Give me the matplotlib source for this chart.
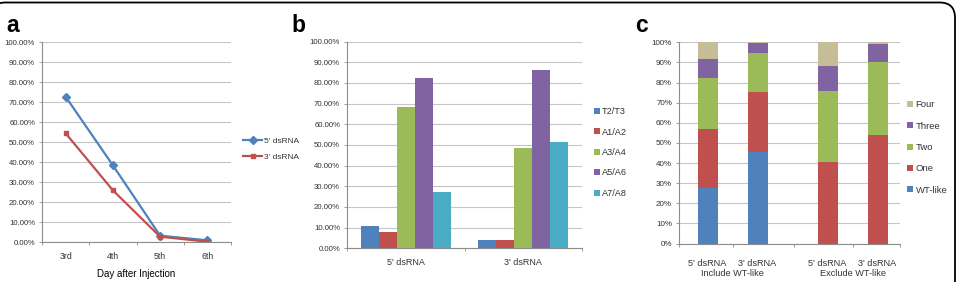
import numpy as np
import matplotlib
matplotlib.use("Agg")
import matplotlib.pyplot as plt
from matplotlib.patches import FancyBboxPatch
from matplotlib.ticker import FixedLocator, FuncFormatter

# --- data ---
days = ["3rd", "4th", "5th", "6th"]
line_5p = [72.8, 38.5, 3.3, 1.0]
line_3p = [54.5, 26.0, 2.8, 0.3]

groups_b = ["5' dsRNA", "3' dsRNA"]
series_b = ["T2/T3", "A1/A2", "A3/A4", "A5/A6", "A7/A8"]
t2t3 = [10.8, 4.0]
a1a2 = [8.0, 4.0]
a3a4 = [68.5, 48.3]
a5a6 = [82.2, 86.1]
a7a8 = [27.4, 51.4]

cats_c = ["5' dsRNA", "3' dsRNA", "5' dsRNA", "3' dsRNA"]
groups_c = ["Include WT-like", "Exclude WT-like"]
wt_like = [27.5, 45.5, 0.0, 0.0]
one = [29.5, 29.6, 40.5, 53.8]
two = [25.5, 19.7, 35.1, 36.2]
three = [9.0, 4.7, 12.4, 9.2]
four = [8.5, 0.5, 12.0, 0.8]

BLUE, RED, GREEN, PURPLE, CYAN, TAN = "#4F81BD", "#C0504D", "#9BBB59", "#8064A2", "#4BACC6", "#C4BD97"
GRID = "#C6C6C6"
AXC = "#8C8C8C"

plt.rcParams["font.family"] = ["Liberation Sans", "DejaVu Sans"]
plt.rcParams["text.color"] = "#333333"

W, H = 957, 282
fig = plt.figure(figsize=(W / 100, H / 100), dpi=100)


def rect(l, r, t, b):
    return [l / W, 1 - b / H, (r - l) / W, (b - t) / H]


def style(ax, fs, xfs, fmt):
    ax.set_ylim(0, 100)
    ax.yaxis.set_major_locator(FixedLocator(np.arange(0, 101, 10)))
    ax.yaxis.set_major_formatter(FuncFormatter(fmt))
    ax.grid(axis="y", color=GRID, linewidth=0.8)
    ax.set_axisbelow(True)
    for s in ["top", "right"]:
        ax.spines[s].set_visible(False)
    for s in ["left", "bottom"]:
        ax.spines[s].set_color(AXC)
        ax.spines[s].set_linewidth(0.8)
    ax.tick_params(axis="y", length=2.5, width=0.6, color=AXC, labelsize=fs, pad=2.5, labelcolor="#333333")
    ax.tick_params(axis="x", which="major", length=0, labelsize=xfs, pad=7, labelcolor="#333333")
    ax.tick_params(axis="x", which="minor", length=2.5, width=0.6, color=AXC)


# --- panel a ---
axa = fig.add_axes(rect(42, 231, 42.3, 242.3))
x = np.arange(len(days))
axa.plot(x, line_5p, color=BLUE, lw=1.6, marker="D", ms=4, label="5' dsRNA")
axa.plot(x, line_3p, color=RED, lw=1.6, marker="s", ms=3.5, label="3' dsRNA")
axa.set_xlim(-0.5, len(days) - 0.5)
style(axa, 5.6, 6.3, lambda v, p: f"{v:.2f}%")
axa.set_xticks(x)
axa.set_xticklabels(days)
axa.set_xticks(np.arange(-0.5, len(days), 1), minor=True)
axa.set_xlabel("Day after Injection", fontsize=7.0, labelpad=6)
axa.legend(loc="center left", bbox_to_anchor=(243 / W, 1 - 149 / H), bbox_transform=fig.transFigure,
           frameon=False, fontsize=6.0, handlelength=2.3, handletextpad=0.2, labelspacing=0.95,
           borderpad=0, borderaxespad=0)

# --- panel b ---
axb = fig.add_axes(rect(347, 582, 41.5, 248.2))
xb = np.arange(len(groups_b))
bw = 0.153
for i, (vals, col, nm) in enumerate(zip([t2t3, a1a2, a3a4, a5a6, a7a8],
                                        [BLUE, RED, GREEN, PURPLE, CYAN], series_b)):
    axb.bar(xb + (i - 2) * bw, vals, bw, color=col, label=nm)
axb.set_xlim(-0.5, len(groups_b) - 0.5)
style(axb, 5.6, 6.5, lambda v, p: f"{v:.2f}%")
axb.set_xticks(xb)
axb.set_xticklabels(groups_b)
axb.set_xticks(np.arange(-0.5, len(groups_b), 1), minor=True)
axb.legend(loc="center left", bbox_to_anchor=(594 / W, 1 - 152.5 / H), bbox_transform=fig.transFigure,
           frameon=False, fontsize=6.6, handlelength=0.6, handleheight=0.6, handletextpad=0.3,
           labelspacing=1.25, borderpad=0, borderaxespad=0)

# --- panel c ---
axc = fig.add_axes(rect(679, 900, 42.3, 243.5))
xc = np.array([0, 1, 2.4, 3.4])
bc = 0.4
bottom = np.zeros(len(cats_c))
for vals, col, nm in zip([wt_like, one, two, three, four], [BLUE, RED, GREEN, PURPLE, TAN],
                         ["WT-like", "One", "Two", "Three", "Four"]):
    axc.bar(xc, vals, bc, bottom=bottom, color=col, label=nm)
    bottom += np.array(vals)
axc.set_xlim(-0.57, 3.85)
style(axc, 5.8, 6.6, lambda v, p: f"{v:.0f}%")
axc.set_xticks(xc)
axc.set_xticklabels(cats_c)
axc.tick_params(axis="x", which="major", pad=11)
axc.set_xticks([-0.57, 0.5, 1.73, 2.9, 3.85], minor=True)
for j, g in enumerate(groups_c):
    axc.text((xc[2 * j] + xc[2 * j + 1]) / 2, -0.15, g, transform=axc.get_xaxis_transform(),
             ha="center", va="center", fontsize=6.6, color="#333333")
h, l = axc.get_legend_handles_labels()
axc.legend(h[::-1], l[::-1], loc="center left", bbox_to_anchor=(907 / W, 1 - 147.5 / H),
           bbox_transform=fig.transFigure, frameon=False, fontsize=6.8, handlelength=0.6,
           handleheight=0.6, handletextpad=0.3, labelspacing=1.3, borderpad=0, borderaxespad=0)

# panel letters
for xp, letter in [(6, "a"), (291, "b"), (635, "c")]:
    fig.text(xp / W, 1 - 31.5 / H, letter, fontsize=16.5, fontweight="bold",
             color="black", ha="left", va="baseline")

# rounded frame around the whole figure
frame = FancyBboxPatch((-10 / W, -0.3), 965 / W, 1.3 - 2.5 / H,
                       boxstyle="round,pad=0,rounding_size=0.016",
                       transform=fig.transFigure, fill=False, edgecolor="black", linewidth=1.3,
                       mutation_aspect=W / H)
fig.patches.append(frame)

fig.savefig("out.png", dpi=100)
